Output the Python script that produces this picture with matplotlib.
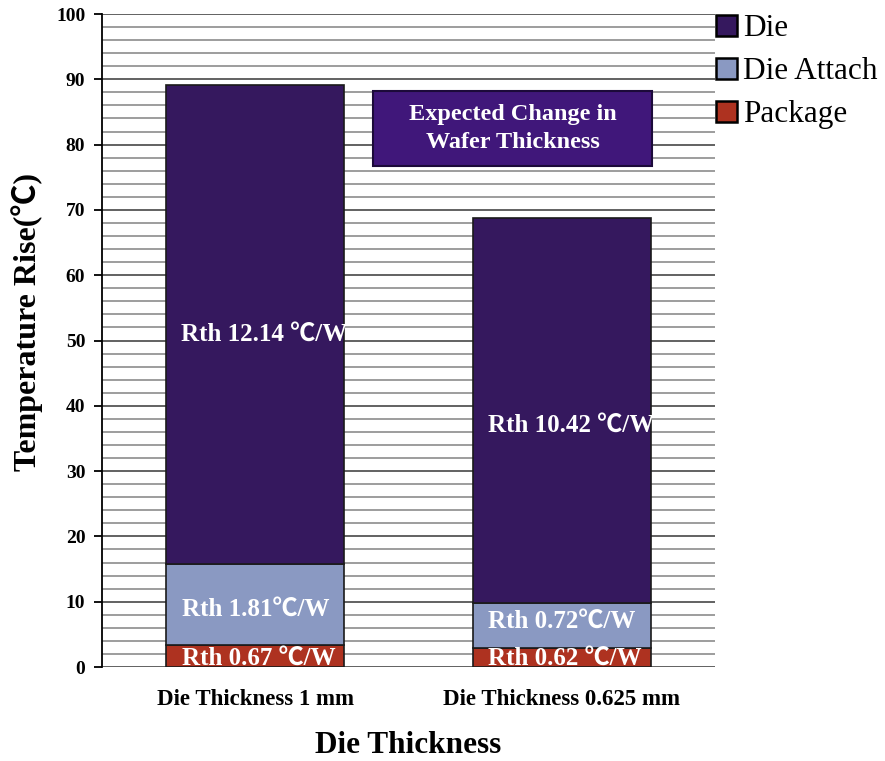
import matplotlib
matplotlib.use("Agg")
import matplotlib.pyplot as plt
from matplotlib.patches import Patch, FancyBboxPatch
from matplotlib.ticker import MultipleLocator
import numpy as np

categories = ["Die Thickness 1 mm", "Die Thickness 0.625 mm"]
package = [3.4, 2.9]
die_attach = [12.4, 6.9]
die = [73.3, 59.0]
package_labels = ["Rth 0.67 \u2103/W", "Rth 0.62 \u2103/W"]
attach_labels = ["Rth 1.81\u2103/W", "Rth 0.72\u2103/W"]
die_labels = ["Rth 12.14 \u2103/W", "Rth 10.42 \u2103/W"]
die_label_y = [51.0, 37.0]
attach_label_y = [8.9, 7.0]
package_label_y = [1.4, 1.3]

SERIF = ["Liberation Serif", "Noto Sans CJK SC", "DejaVu Serif"]
plt.rcParams['font.family'] = SERIF

c_die = "#35185E"
c_att = "#8A99C2"
c_pkg = "#AE3220"

fig = plt.figure(figsize=(8.85, 7.61), dpi=100)
ax = fig.add_axes([0.1153, 0.1235, 0.6927, 0.8581])

x = np.arange(len(categories))
w = 0.58
pk = np.array(package)
da = np.array(die_attach)
di = np.array(die)
ax.bar(x, pk, w, color=c_pkg, edgecolor="#1a1a1a", linewidth=1.2, zorder=3)
ax.bar(x, da, w, bottom=pk, color=c_att, edgecolor="#1a1a1a", linewidth=1.2, zorder=3)
ax.bar(x, di, w, bottom=pk + da, color=c_die, edgecolor="#1a1a1a", linewidth=1.2, zorder=3)

for i in range(len(x)):
    ax.text(x[i] + 0.01, package_label_y[i], package_labels[i], ha="center", va="center",
            color="white", fontweight="bold", fontsize=18, zorder=5)
    ax.text(x[i], attach_label_y[i], attach_labels[i], ha="center", va="center",
            color="white", fontweight="bold", fontsize=18, zorder=5)
    ax.text(x[i] + 0.03, die_label_y[i], die_labels[i], ha="center", va="center",
            color="white", fontweight="bold", fontsize=18, zorder=5)

ax.set_xlim(-0.5, 1.5)
ax.set_ylim(0, 100)
ax.yaxis.set_major_locator(MultipleLocator(10))
ax.yaxis.set_minor_locator(MultipleLocator(2))
ax.grid(True, which="minor", axis="y", color="#8c8c8c", linewidth=1.2, zorder=0)
ax.grid(True, which="major", axis="y", color="#555555", linewidth=1.3, zorder=0)
ax.tick_params(axis="y", which="minor", length=0)
ax.tick_params(axis="y", which="major", length=6, width=1.3, direction="out", pad=6)
ax.tick_params(axis="x", length=0, pad=16)
for s in ["top", "right"]:
    ax.spines[s].set_visible(False)
ax.spines["bottom"].set_visible(False)
ax.spines["left"].set_linewidth(1.3)

ax.set_xticks(x)
ax.set_xticklabels(categories, fontweight="bold", fontsize=16.5)
for lab in ax.get_yticklabels():
    lab.set_fontweight("bold")
    lab.set_fontsize(14)
ax.set_ylabel("Temperature Rise(\u2103)", fontweight="bold", fontsize=23)
ax.yaxis.set_label_coords(-0.097, 0.528)
ax.set_xlabel("Die Thickness", fontweight="bold", fontsize=22.5, labelpad=15)

# annotation box
box = FancyBboxPatch((0.384, 76.7), 0.91, 11.5, boxstyle="square,pad=0",
                     facecolor="#40177A", edgecolor="#1c0a3a", linewidth=1.5, zorder=4)
ax.add_patch(box)
ax.text(0.839, 82.45, "Expected Change in\nWafer Thickness", ha="center", va="center",
        color="white", fontweight="bold", fontsize=17.5, linespacing=1.4, zorder=5)

handles = [Patch(facecolor=c_die, edgecolor="black", linewidth=1.8, label="Die"),
           Patch(facecolor=c_att, edgecolor="black", linewidth=1.8, label="Die Attach"),
           Patch(facecolor=c_pkg, edgecolor="black", linewidth=1.8, label="Package")]
fig.legend(handles=handles, loc="upper left", bbox_to_anchor=(0.795, 0.998), frameon=False,
           fontsize=22.5, handlelength=0.66, handleheight=0.66, handletextpad=0.2,
           labelspacing=0.45, borderaxespad=0)

fig.savefig("out.png", dpi=100)
